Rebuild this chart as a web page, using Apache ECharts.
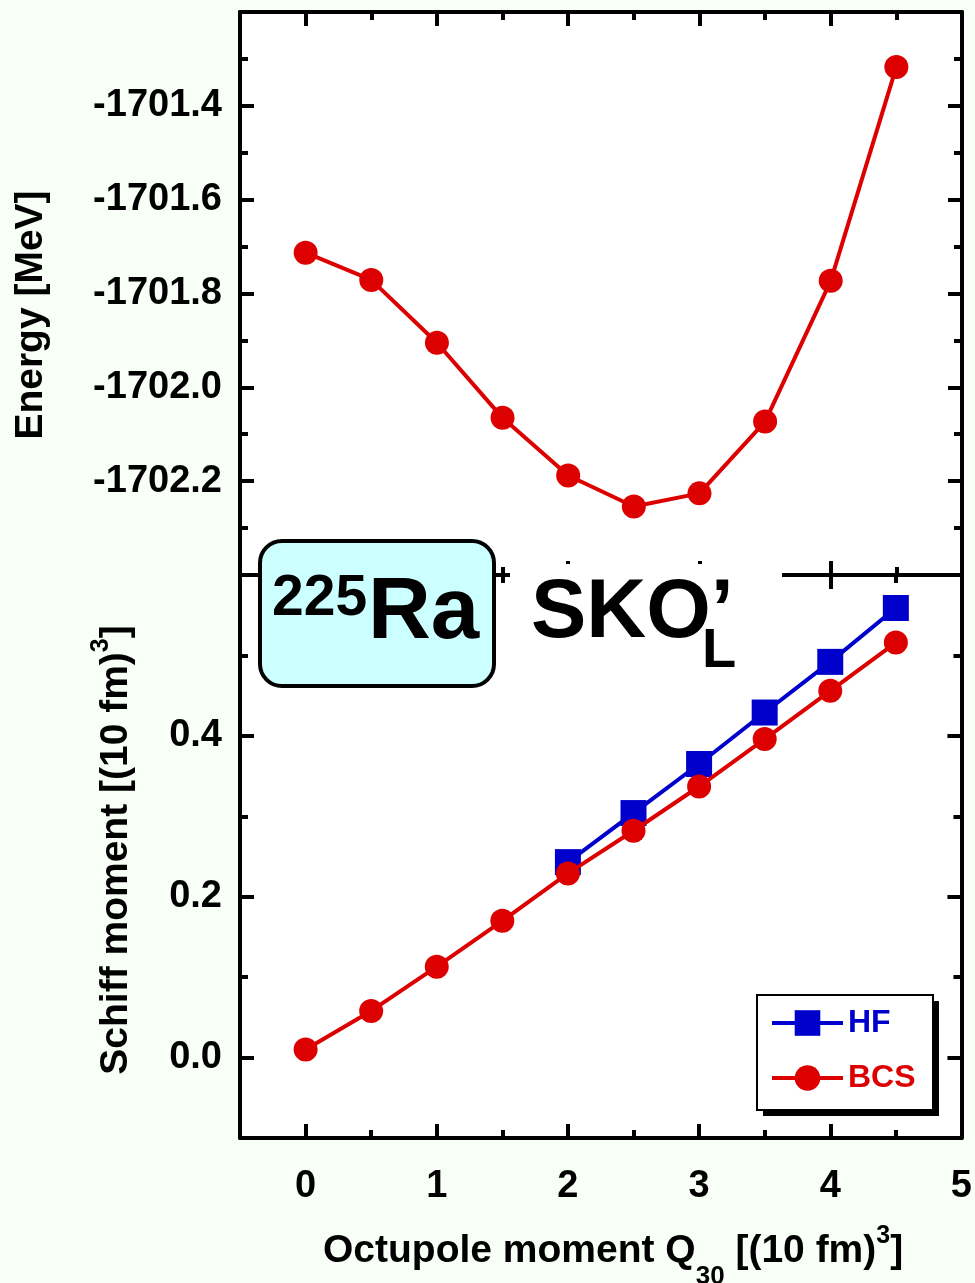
<!DOCTYPE html>
<html>
<head>
<meta charset="utf-8">
<script src="https://cdn.jsdelivr.net/npm/echarts@6/dist/echarts.min.js"></script>
<style>
html,body{margin:0;padding:0;background:#f7fff6;}
#chart{width:975px;height:1283px;}
</style>
</head>
<body>
<div id="chart"></div>
<script>
// ---------------- data ----------------
const q30 = [0, 0.5, 1, 1.5, 2, 2.5, 3, 3.5, 4, 4.5];
const energyBCS = [-1701.713, -1701.771, -1701.905, -1702.065, -1702.188, -1702.254, -1702.226, -1702.073, -1701.773, -1701.317];
const schiffBCS = [0.010, 0.058, 0.113, 0.170, 0.229, 0.282, 0.337, 0.396, 0.456, 0.516];
const q30HF = [2, 2.5, 3, 3.5, 4, 4.5];
const schiffHF = [0.243, 0.304, 0.365, 0.429, 0.492, 0.559];

const xMajorTicks = [0, 1, 2, 3, 4, 5];
const xMinorTicks = [0.5, 1.5, 2.5, 3.5, 4.5];
const xTickLabels = [0, 1, 2, 3, 4, 5];
const energyMajorTicks = [-1702.2, -1702.0, -1701.8, -1701.6, -1701.4];
const energyMinorTicks = [-1702.3, -1702.1, -1701.9, -1701.7, -1701.5, -1701.3];
const energyTickLabels = [-1702.2, -1702.0, -1701.8, -1701.6, -1701.4];
const schiffMajorTicks = [0, 0.2, 0.4];
const schiffMinorTicks = [0.1, 0.3, 0.5];
const schiffTickLabels = [0, 0.2, 0.4];

const xRange = [-0.5, 5];
const energyRange = [-1702.4, -1701.2];
const schiffRange = [-0.1, 0.6];

// ---------------- style ----------------
const FONT = '"Liberation Sans", Arial, Helvetica, sans-serif';
const RED = '#dd0000';
const BLUE = '#0000cc';
const AXW = 4;
const LW = 4;

function mkAxis(gridIndex, position, range, interval, ticks, tickLen, showLine, labels, labelMargin) {
  return {
    type: 'value', gridIndex: gridIndex, position: position,
    min: range[0], max: range[1], interval: interval,
    axisLine: { show: showLine, onZero: false, lineStyle: { color: '#000', width: AXW } },
    axisTick: { show: true, inside: true, length: tickLen, customValues: ticks,
                lineStyle: { color: '#000', width: AXW } },
    axisLabel: labels ? {
      show: true, customValues: labels, margin: labelMargin,
      showMinLabel: true, showMaxLabel: true,
      color: '#000', fontFamily: FONT, fontWeight: 'bold', fontSize: 38,
      formatter: function (v) { return position === 'left' ? Number(v).toFixed(1) : String(Math.round(v)); }
    } : { show: false },
    splitLine: { show: false },
    minorTick: { show: false }
  };
}

const xAxes = [
  // grid 0 (energy)
  mkAxis(0, 'bottom', xRange, 0.5, xMajorTicks, 14, true, null),
  mkAxis(0, 'bottom', xRange, 0.5, xMinorTicks, 8, false, null),
  mkAxis(0, 'top', xRange, 0.5, xMajorTicks, 14, true, null),
  mkAxis(0, 'top', xRange, 0.5, xMinorTicks, 8, false, null),
  // grid 1 (schiff)
  mkAxis(1, 'bottom', xRange, 0.5, xMajorTicks, 14, true, xTickLabels, 30),
  mkAxis(1, 'bottom', xRange, 0.5, xMinorTicks, 8, false, null),
  mkAxis(1, 'top', xRange, 0.5, xMajorTicks, 14, true, null),
  mkAxis(1, 'top', xRange, 0.5, xMinorTicks, 8, false, null)
];
const yAxes = [
  mkAxis(0, 'left', energyRange, 0.1, energyMajorTicks, 14, true, energyTickLabels, 18),
  mkAxis(0, 'left', energyRange, 0.1, energyMinorTicks, 8, false, null),
  mkAxis(0, 'right', energyRange, 0.1, energyMajorTicks, 14, true, null),
  mkAxis(0, 'right', energyRange, 0.1, energyMinorTicks, 8, false, null),
  mkAxis(1, 'left', schiffRange, 0.1, schiffMajorTicks, 14, true, schiffTickLabels, 18),
  mkAxis(1, 'left', schiffRange, 0.1, schiffMinorTicks, 8, false, null),
  mkAxis(1, 'right', schiffRange, 0.1, schiffMajorTicks, 14, true, null),
  mkAxis(1, 'right', schiffRange, 0.1, schiffMinorTicks, 8, false, null)
];

function pairs(xs, ys) { return xs.map(function (x, i) { return [x, ys[i]]; }); }

const titleRich = {
  m: { fontSize: 39, fontWeight: 'bold', fontFamily: FONT, fill: '#000', lineHeight: 40 },
  sub: { fontSize: 26, fontWeight: 'bold', fontFamily: FONT, fill: '#000', lineHeight: 26, padding: [52, 0, 0, 0] },
  sup: { fontSize: 25, fontWeight: 'bold', fontFamily: FONT, fill: '#000', lineHeight: 25, padding: [0, 0, 30, 0] }
};

const option = {
  animation: false,
  backgroundColor: '#f7fff6',
  grid: [
    { left: 240, top: 12, width: 722, height: 563, show: true, backgroundColor: '#ffffff', borderWidth: 0, containLabel: false },
    { left: 240, top: 575, width: 722, height: 563, show: true, backgroundColor: '#ffffff', borderWidth: 0, containLabel: false }
  ],
  xAxis: xAxes,
  yAxis: yAxes,
  legend: {
    left: 757, top: 995, orient: 'vertical', z: 20,
    padding: [12, 18, 16, 13], itemGap: 23,
    itemWidth: 71, itemHeight: 32,
    selectedMode: false,
    lineStyle: { width: LW },
    textStyle: { fontFamily: FONT, fontWeight: 'bold', fontSize: 32 },
    data: [
      { name: 'HF', textStyle: { color: BLUE } },
      { name: 'BCS', textStyle: { color: RED } }
    ]
  },
  series: [
    { type: 'line', name: 'HF', xAxisIndex: 4, yAxisIndex: 4, data: pairs(q30HF, schiffHF),
      symbol: 'rect', symbolSize: 26, showSymbol: true,
      lineStyle: { color: BLUE, width: LW }, itemStyle: { color: BLUE }, z: 3 },
    { type: 'line', name: 'BCS', xAxisIndex: 4, yAxisIndex: 4, data: pairs(q30, schiffBCS),
      symbol: 'circle', symbolSize: 24, showSymbol: true,
      lineStyle: { color: RED, width: LW }, itemStyle: { color: RED }, z: 4 },
    { type: 'line', name: 'BCS', xAxisIndex: 0, yAxisIndex: 0, data: pairs(q30, energyBCS),
      symbol: 'circle', symbolSize: 24, showSymbol: true,
      lineStyle: { color: RED, width: LW }, itemStyle: { color: RED }, z: 4 }
  ],
  graphic: [
    // legend frame with hard shadow
    { type: 'rect', z: 10, shape: { x: 763, y: 1001, width: 176, height: 115 },
      style: { fill: '#000', stroke: null } },
    { type: 'rect', z: 11, shape: { x: 757, y: 995, width: 176, height: 115 },
      style: { fill: '#ffffff', stroke: '#000', lineWidth: 2 } },
    // white patch behind the force label
    { type: 'rect', z: 10, shape: { x: 510, y: 564, width: 272, height: 125 },
      style: { fill: '#ffffff', stroke: null } },
    // nucleus label box
    { type: 'rect', z: 11, shape: { x: 260, y: 541, width: 234, height: 145, r: 22 },
      style: { fill: '#ccffff', stroke: '#000', lineWidth: 4 } },
    { type: 'text', z: 12, x: 272, y: 599,
      style: { text: '225', fontSize: 57, fontWeight: 'bold', fontFamily: FONT, fill: '#000', align: 'left', verticalAlign: 'middle' } },
    { type: 'text', z: 12, x: 368, y: 614,
      style: { text: 'Ra', fontSize: 87, fontWeight: 'bold', fontFamily: FONT, fill: '#000', align: 'left', verticalAlign: 'middle' } },
    { type: 'text', z: 12, x: 531, y: 614,
      style: { text: 'SKO\u2019', fontSize: 83, fontWeight: 'bold', fontFamily: FONT, fill: '#000', align: 'left', verticalAlign: 'middle' } },
    { type: 'text', z: 12, x: 702, y: 652,
      style: { text: 'L', fontSize: 56, fontWeight: 'bold', fontFamily: FONT, fill: '#000', align: 'left', verticalAlign: 'middle' } },
    // axis titles
    { type: 'text', z: 12, x: 31, y: 315, rotation: Math.PI / 2,
      style: { text: 'Energy [MeV]', fontSize: 39, fontWeight: 'bold', fontFamily: FONT, fill: '#000', align: 'center', verticalAlign: 'middle' } },
    { type: 'text', z: 12, x: 116, y: 850, rotation: Math.PI / 2,
      style: { text: '{m|Schiff moment [(10 fm)}{sup|3}{m|]}', rich: titleRich, align: 'center', verticalAlign: 'middle' } },
    { type: 'text', z: 12, x: 323, y: 1251,
      style: { text: '{m|Octupole moment Q}{sub|30}{m| [(10 fm)}{sup|3}{m|]}', rich: titleRich, align: 'left', verticalAlign: 'middle' } }
  ]
};

const chart = echarts.init(document.getElementById('chart'), null, { renderer: 'canvas' });
chart.setOption(option);
</script>
</body>
</html>
